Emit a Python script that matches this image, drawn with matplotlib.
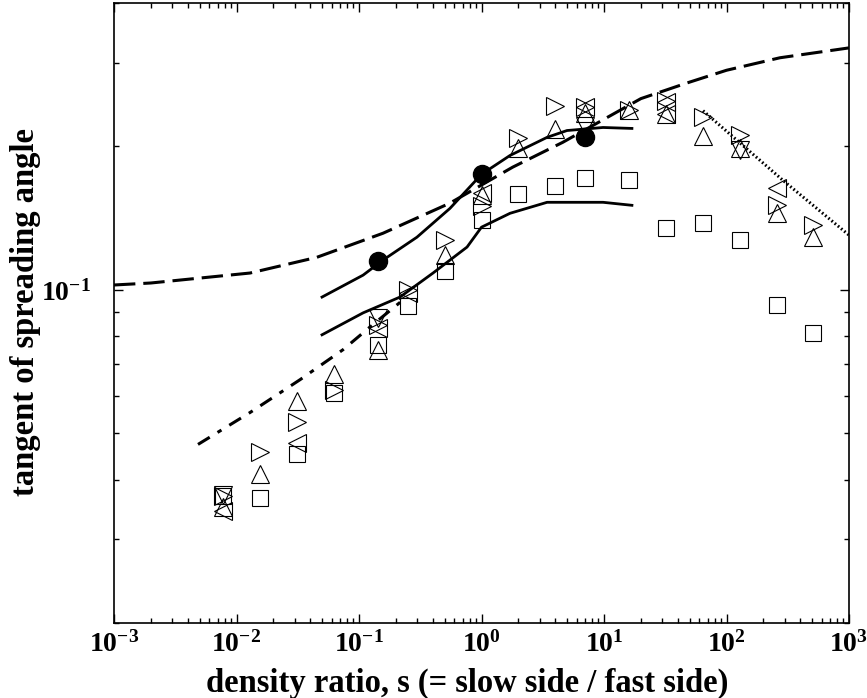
import numpy as np
import matplotlib
matplotlib.use('Agg')
import matplotlib.pyplot as plt
from matplotlib.ticker import LogLocator, FixedLocator, FuncFormatter, NullFormatter

plt.rcParams['font.family'] = 'Liberation Serif'
plt.rcParams['font.weight'] = 'bold'
plt.rcParams['mathtext.fontset'] = 'custom'
plt.rcParams['mathtext.rm'] = 'Liberation Serif:bold'
plt.rcParams['mathtext.bf'] = 'Liberation Serif:bold'
plt.rcParams['mathtext.it'] = 'Liberation Serif:italic:bold'

x_decades = [1e-3, 1e-2, 1e-1, 1e0, 1e1, 1e2, 1e3]
y_decades = [1e-1]

# measured spreading rates, one list per data set
s_sq = [1/128, 1/64, 1/32, 1/16, 1/7, 1/4, 1/2, 1, 2, 4, 7, 16, 32, 64, 128, 256, 512]
t_sq = [0.0369, 0.0365, 0.0452, 0.0609, 0.0767, 0.0925, 0.1095, 0.1400, 0.1587,
        0.1650, 0.1714, 0.1698, 0.1347, 0.1380, 0.1272, 0.0930, 0.0813]

s_up = [1/128, 1/64, 1/32, 1/16, 1/7, 1/2, 1, 2, 4, 7, 16, 32, 64, 128, 256, 512]
t_up = [0.0350, 0.0410, 0.0586, 0.0667, 0.0748, 0.1183, 0.1579, 0.1981, 0.2181,
        0.2356, 0.2390, 0.2345, 0.2099, 0.1981, 0.1448, 0.1290]

s_right = [1/128, 1/64, 1/32, 1/16, 1/7, 1/4, 1/2, 1, 2, 4, 7, 16, 32, 64, 128, 256, 512]
t_right = [0.0369, 0.0456, 0.0529, 0.0617, 0.0845, 0.1000, 0.1272, 0.1498, 0.2079,
           0.2437, 0.2425, 0.2390, 0.2496, 0.2311, 0.2109, 0.1505, 0.1367]

s_left = [1/128, 1/32, 1/7, 1/4, 1, 7, 32, 32, 256]
t_left = [0.0343, 0.0478, 0.0832, 0.0985, 0.1595, 0.2425, 0.2480, 0.2345, 0.1634]

s_down = [1/128, 1/7, 7, 128]
t_down = [0.0372, 0.0873, 0.2213, 0.1962]

# simulations
s_sim = [1/7, 1, 7]
t_sim = [0.115, 0.1748, 0.209]

# model curves
s_dash = [0.001, 0.002, 0.0129, 0.045, 0.157, 0.55, 1.8, 4.6, 20, 48, 100, 273, 1000]
t_dash = [0.1024, 0.1034, 0.1085, 0.1170, 0.1315, 0.1520, 0.1810, 0.2040, 0.2520,
          0.2720, 0.2890, 0.3070, 0.3220]

s_up_line = [0.0499, 0.108, 0.157, 0.297, 0.553, 1.0, 1.71, 3.43, 4.99, 9.82, 16.9]
t_up_line = [0.0966, 0.1074, 0.1155, 0.1290, 0.1483, 0.1748, 0.1915, 0.2090, 0.2160,
             0.2192, 0.2182]

s_lo_line = [0.0499, 0.108, 0.216, 0.402, 0.762, 1.0, 1.71, 3.43, 9.82, 16.9]
t_lo_line = [0.0805, 0.0895, 0.0966, 0.1085, 0.1230, 0.1354, 0.1448, 0.1527, 0.1527,
             0.1505]

s_dashdot = [0.00485, 0.0129, 0.033, 0.074, 0.123, 0.229]
t_dashdot = [0.0474, 0.0553, 0.0648, 0.0749, 0.0836, 0.0953]

s_dot = [64.3, 289, 1000]
t_dot = [0.2377, 0.1698, 0.1303]

fig = plt.figure(figsize=(8.67, 6.98), dpi=100)
ax = fig.add_axes([114/867, 1 - 623/698, 735/867, 620/698])
ax.set_xscale('log')
ax.set_yscale('log')

ax.plot(s_dash, t_dash, color='black', lw=2.2, dashes=(7, 2.6))
ax.plot(s_up_line, t_up_line, color='black', lw=2)
ax.plot(s_lo_line, t_lo_line, color='black', lw=2)
ax.plot(s_dashdot, t_dashdot, color='black', lw=2.2, dashes=(4.5, 3, 1.5, 3))
ax.plot(s_dot, t_dot, color='black', lw=2.2, linestyle=(0, (0.55, 0.8)))

mk = dict(linestyle='none', markerfacecolor='none', markeredgecolor='black',
          markeredgewidth=0.8)
ax.plot(s_sq, t_sq, marker='s', markersize=11, **mk)
ax.plot(s_up, t_up, marker='^', markersize=13, **mk)
ax.plot(s_right, t_right, marker='>', markersize=13, **mk)
ax.plot(s_left, t_left, marker='<', markersize=13, **mk)
ax.plot(s_down, t_down, marker='v', markersize=13, **mk)
ax.plot(s_sim, t_sim, linestyle='none', marker='o', markersize=13, color='black')

ax.set_xlim(1e-3, 1e3)
ax.set_ylim(0.02, 0.4)

ax.xaxis.set_major_locator(FixedLocator(x_decades))
ax.xaxis.set_minor_locator(LogLocator(base=10, subs=np.arange(2, 10)))
ax.yaxis.set_major_locator(FixedLocator(y_decades))
ax.yaxis.set_minor_locator(LogLocator(base=10, subs=np.arange(2, 10)))
fmt = FuncFormatter(lambda v, pos: r'$\mathbf{10^{%d}}$' % round(np.log10(v)))
ax.xaxis.set_major_formatter(fmt)
ax.yaxis.set_major_formatter(fmt)
ax.xaxis.set_minor_formatter(NullFormatter())
ax.yaxis.set_minor_formatter(NullFormatter())

ax.tick_params(which='both', direction='in', top=True, right=True, width=1)
ax.tick_params(which='major', length=6.5, labelsize=20)
ax.tick_params(which='minor', length=3.3, labelbottom=False, labelleft=False)
ax.tick_params(axis='x', pad=6)
ax.tick_params(axis='y', pad=17)
for sp in ax.spines.values():
    sp.set_linewidth(1.2)

ax.set_xlabel('density ratio, s (= slow side / fast side)', fontsize=23.5,
              fontweight='bold', va='center')
ax.xaxis.set_label_coords(0.48, -0.0968)
ax.set_ylabel('tangent of spreading angle', fontsize=23.5, fontweight='bold',
              va='center')
ax.yaxis.set_label_coords(-0.121, 0.502)

fig.savefig('out.png', dpi=100)
